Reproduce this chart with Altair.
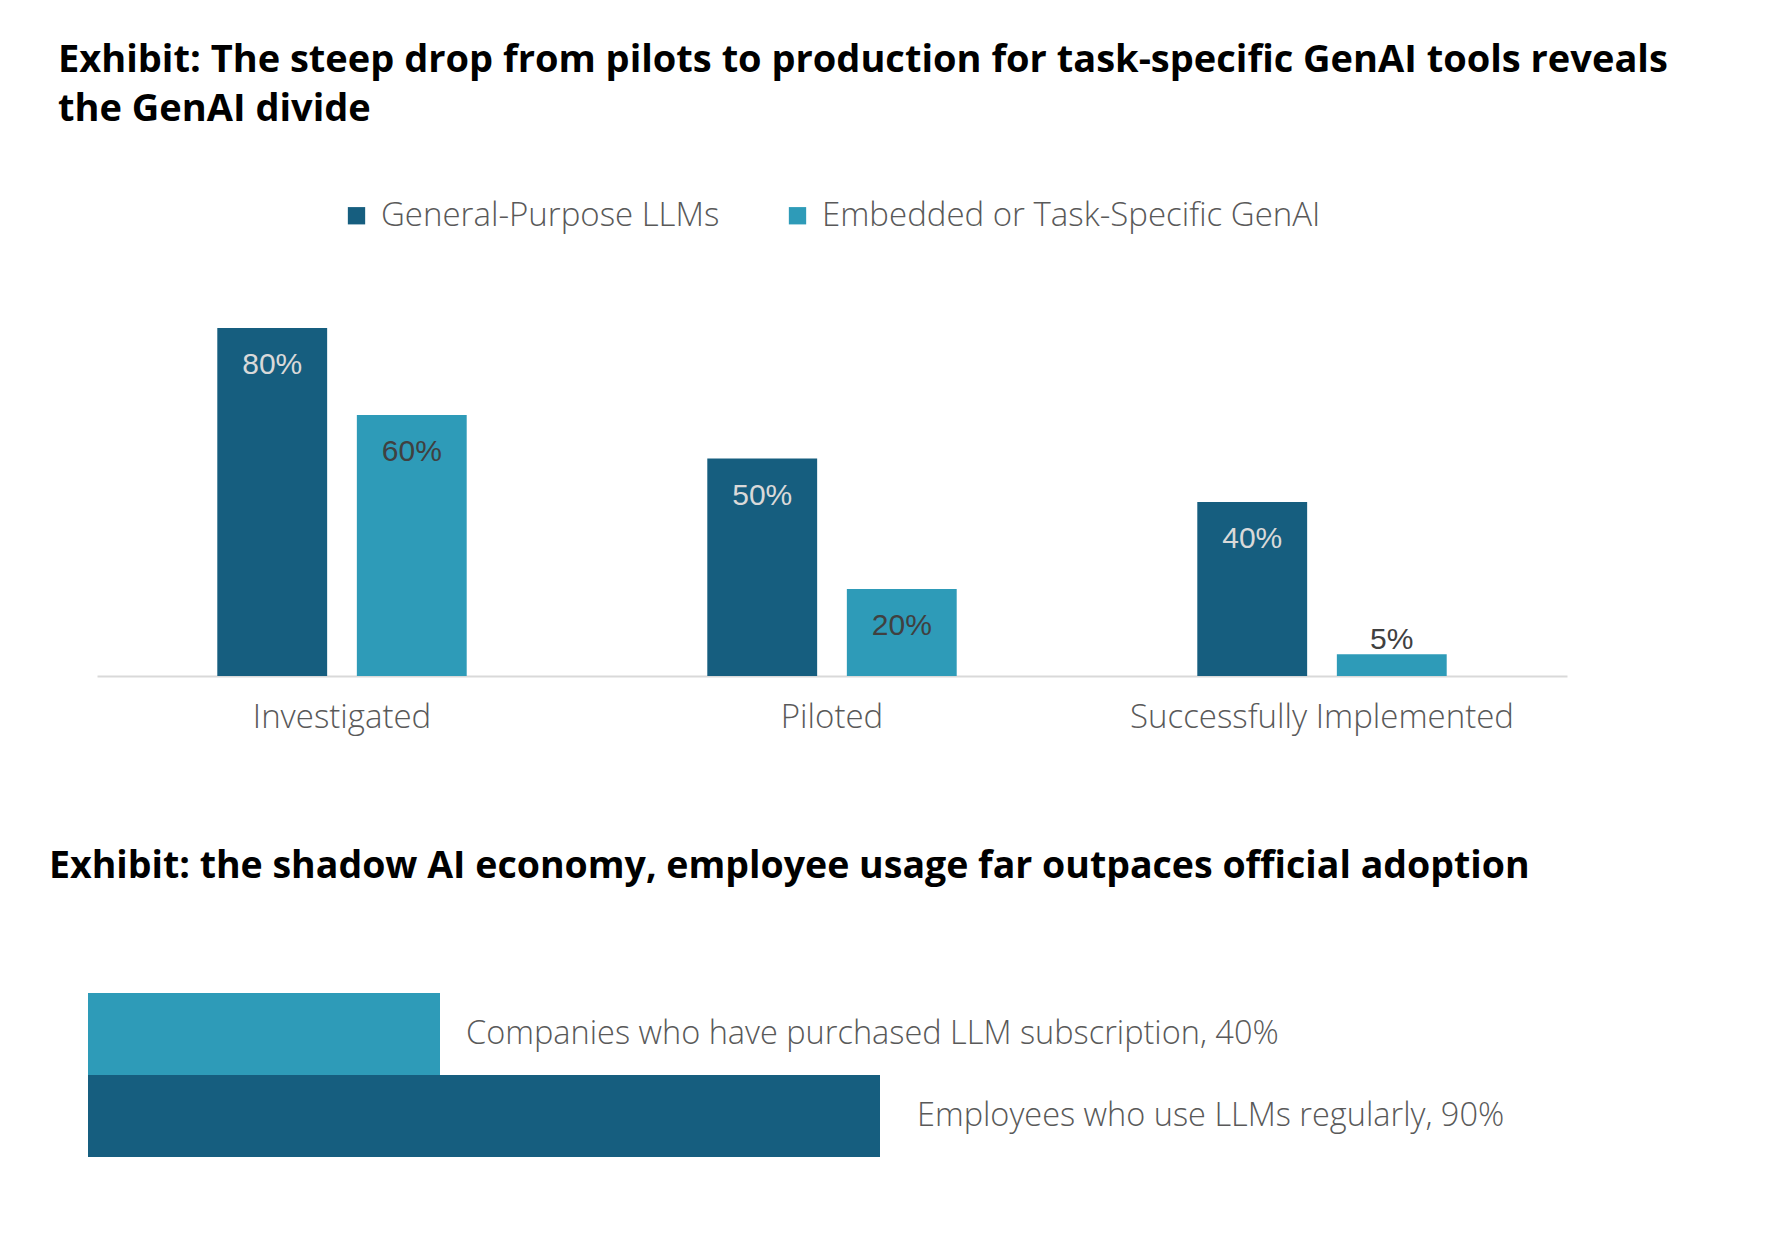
import altair as alt
import pandas as pd

stages = ["Investigated", "Piloted", "Successfully Implemented"]
series = ["General-Purpose LLMs", "Embedded or Task-Specific GenAI"]
general_vals = [80, 50, 40]
embedded_vals = [60, 20, 5]

shadow_labels = ["Companies who have purchased LLM subscription", "Employees who use LLMs regularly"]
shadow_vals = [40, 90]

DARK = "#165e7f"
LIGHT = "#2e9bb8"
GREY = "#595959"
TFONT = "Open Sans"
LFONT = "Open Sans"

rows = []
for s, g, e in zip(stages, general_vals, embedded_vals):
    rows.append({"stage": s, "series": series[0], "value": g})
    rows.append({"stage": s, "series": series[1], "value": e})
df = pd.DataFrame(rows)
df["label"] = df["value"].astype(str) + "%"

x = alt.X("stage:N", sort=stages,
          scale=alt.Scale(paddingInner=0, paddingOuter=0),
          axis=alt.Axis(title=None, labelAngle=0, ticks=False, domainColor="#d9d9d9",
                        domainWidth=2, labelFontSize=33, labelFont=LFONT,
                        labelFontWeight=300, labelLimit=0,
                        labelColor=GREY, labelPadding=25))
xo = alt.XOffset("series:N", sort=series,
                 scale=alt.Scale(paddingInner=0.2128, paddingOuter=0.862))
y = alt.Y("value:Q", scale=alt.Scale(domain=[0, 100]), axis=None)

base = alt.Chart(df).encode(x=x, xOffset=xo, y=y)

bars = base.mark_bar().encode(
    color=alt.Color("series:N", sort=series,
                    scale=alt.Scale(domain=series, range=[DARK, LIGHT]),
                    legend=alt.Legend(orient="none", legendX=243, legendY=-42,
                                      direction="horizontal", title=None,
                                      symbolType="square", symbolSize=300,
                                      symbolStrokeWidth=0, labelFontSize=33,
                                      labelFont=LFONT, labelFontWeight=300,
                                      labelColor=GREY, labelLimit=0,
                                      columnPadding=61, labelOffset=8))
)

txt_dark = base.transform_filter(alt.datum.series == series[0]).mark_text(
    font="Liberation Sans", fontSize=30, color="#d9d9d9", dy=37
).encode(text="label:N")
txt_light = base.transform_filter(
    (alt.datum.series == series[1]) & (alt.datum.value >= 10)
).mark_text(font="Liberation Sans", fontSize=30, color="#404040", dy=37).encode(text="label:N")
txt_small = base.transform_filter(
    (alt.datum.series == series[1]) & (alt.datum.value < 10)
).mark_text(font="Liberation Sans", fontSize=30, color="#404040", dy=-14).encode(text="label:N")

top = alt.layer(bars, txt_dark, txt_light, txt_small).properties(
    width=1470, height=435,
    title=alt.TitleParams(
        ["Exhibit: The steep drop from pilots to production for task-specific GenAI tools reveals",
         "the GenAI divide"],
        anchor="start", fontSize=38, font=TFONT, fontWeight="bold", color="black",
        lineHeight=49, dx=-39, offset=70)
)

df2 = pd.DataFrame({"cat": shadow_labels, "value": shadow_vals})
df2["label"] = df2["cat"] + ", " + df2["value"].astype(str) + "%"

base2 = alt.Chart(df2).encode(
    y=alt.Y("cat:N", sort=shadow_labels, scale=alt.Scale(paddingInner=0, paddingOuter=0), axis=None),
    x=alt.X("value:Q", scale=alt.Scale(domain=[0, 100], range=[-9, 871]), axis=None),
)
bars2 = base2.mark_bar().encode(
    color=alt.Color("cat:N", scale=alt.Scale(domain=shadow_labels, range=[LIGHT, DARK]), legend=None)
)
txt2a = base2.transform_filter(alt.datum.cat == shadow_labels[0]).mark_text(
    align="left", dx=26, font=LFONT, fontWeight=300, fontSize=32.5, color=GREY
).encode(text="label:N")
txt2b = base2.transform_filter(alt.datum.cat == shadow_labels[1]).mark_text(
    align="left", dx=37, font=LFONT, fontWeight=300, fontSize=32.5, color=GREY
).encode(text="label:N")

bottom = alt.layer(bars2, txt2a, txt2b).properties(
    width=880, height=164,
    title=alt.TitleParams(
        "Exhibit: the shadow AI economy, employee usage far outpaces official adoption",
        anchor="start", fontSize=37.5, font=TFONT, fontWeight="bold", color="black",
        dx=-39, offset=108)
)

chart = alt.vconcat(top, bottom, spacing=113).resolve_scale(color="independent").properties(
    padding={"left": 41, "top": 34, "right": 5, "bottom": 5}
).configure(background="white").configure_view(stroke=None)

chart.save("out.html", embed_options={"renderer": "svg", "actions": False})
